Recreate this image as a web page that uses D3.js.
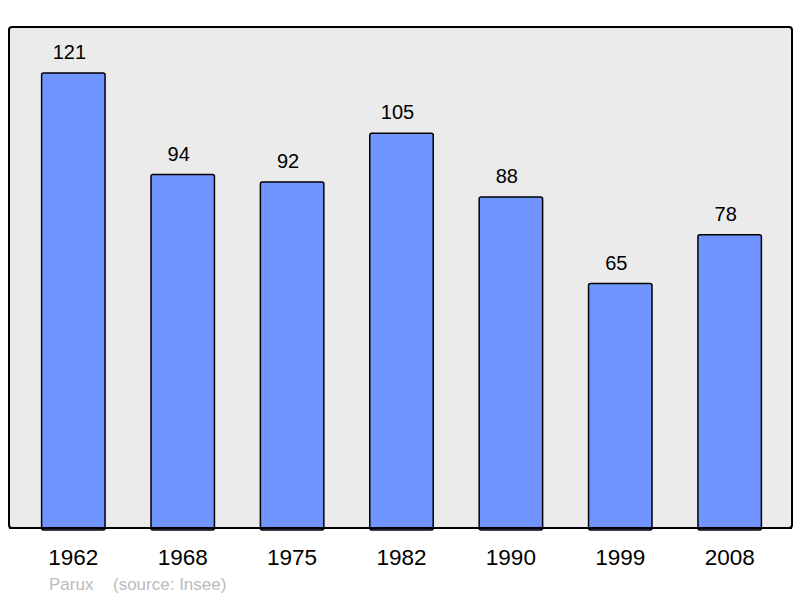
<!DOCTYPE html>
<html>
<head>
<meta charset="utf-8">
<title>Population</title>
<script src="https://d3js.org/d3.v7.min.js"></script>
<style>
  body { margin: 0; background: #fff; }
  text { font-family: "Liberation Sans", Arial, sans-serif; }
</style>
</head>
<body>
<svg width="800" height="598"></svg>
<script>
const years = ["1962", "1968", "1975", "1982", "1990", "1999", "2008"];
const population = [121, 94, 92, 105, 88, 65, 78];

const svg = d3.select("svg");

const panel = { left: 9, top: 27, right: 792, bottom: 528 };

svg.append("rect")
  .attr("x", panel.left).attr("y", panel.top)
  .attr("width", panel.right - panel.left)
  .attr("height", panel.bottom - panel.top)
  .attr("rx", 3)
  .attr("fill", "#ebebeb")
  .attr("stroke", "#000")
  .attr("stroke-width", 2);

const x = d3.scaleBand()
  .domain(years)
  .range([panel.left + 1, panel.right + 1])
  .paddingInner(0.42)
  .paddingOuter(0.289);

const y = d3.scaleLinear()
  .domain([0, 121])
  .range([panel.bottom, 73]);

const data = years.map((yr, i) => ({ year: yr, value: population[i] }));

svg.selectAll(".bar")
  .data(data)
  .enter()
  .append("rect")
  .attr("class", "bar")
  .attr("x", d => x(d.year))
  .attr("y", d => y(d.value))
  .attr("width", x.bandwidth())
  .attr("height", d => panel.bottom - y(d.value) + 2)
  .attr("rx", 2)
  .attr("fill", "#7095ff")
  .attr("stroke", "#000")
  .attr("stroke-width", 1.5);

// redraw bottom border over bar bottoms
svg.append("line")
  .attr("x1", panel.left).attr("x2", panel.right)
  .attr("y1", panel.bottom).attr("y2", panel.bottom)
  .attr("stroke", "#000").attr("stroke-width", 2);

svg.selectAll(".val")
  .data(data)
  .enter()
  .append("text")
  .attr("class", "val")
  .attr("x", d => x(d.year) + x.bandwidth() / 2 - 4)
  .attr("y", d => y(d.value) - 14)
  .attr("text-anchor", "middle")
  .attr("font-size", "20px")
  .attr("fill", "#000")
  .text(d => d.value);

svg.selectAll(".year")
  .data(years)
  .enter()
  .append("text")
  .attr("class", "year")
  .attr("x", d => x(d) + x.bandwidth() / 2)
  .attr("y", 565)
  .attr("text-anchor", "middle")
  .attr("font-size", "22.5px")
  .attr("fill", "#000")
  .text(d => d);

svg.append("text")
  .attr("x", 49).attr("y", 590)
  .attr("font-size", "17px")
  .attr("fill", "#bbb")
  .text("Parux");

svg.append("text")
  .attr("x", 113).attr("y", 590)
  .attr("font-size", "17px")
  .attr("fill", "#bbb")
  .text("(source: Insee)");
</script>
</body>
</html>
